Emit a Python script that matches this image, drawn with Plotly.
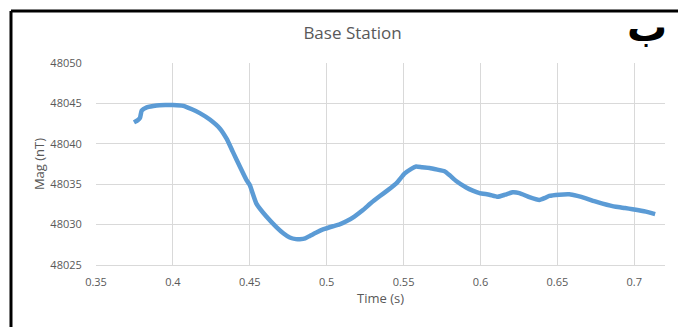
import plotly.graph_objects as go

time_s = [0.3747, 0.3770, 0.3786, 0.3797, 0.3830, 0.3894, 0.3950, 0.4000, 0.4067,
          0.4120, 0.4175, 0.4240, 0.4305, 0.4350, 0.4390, 0.4440, 0.4479, 0.4500,
          0.4543, 0.4608, 0.4673, 0.4720, 0.4760, 0.4800, 0.4825, 0.4860, 0.4890,
          0.4930, 0.4976, 0.5041, 0.5080, 0.5128, 0.5180, 0.5236, 0.5290, 0.5344,
          0.5400, 0.5453, 0.5506, 0.5550, 0.5582, 0.5620, 0.5669, 0.5720, 0.5766,
          0.5800, 0.5842, 0.5907, 0.5950, 0.5994, 0.6058, 0.6112, 0.6160, 0.6210,
          0.6253, 0.6318, 0.6383, 0.6420, 0.6448, 0.6513, 0.6578, 0.6630, 0.6686,
          0.6740, 0.6794, 0.6881, 0.6940, 0.6989, 0.7076, 0.7136]
mag_nT = [48042.65, 48042.9, 48043.2, 48044.1, 48044.5, 48044.75, 48044.8, 48044.8, 48044.7,
          48044.3, 48043.8, 48043.0, 48041.9, 48040.6, 48039.0, 48037.0, 48035.5, 48034.9,
          48032.6, 48031.0, 48029.7, 48028.9, 48028.4, 48028.2, 48028.2, 48028.3, 48028.6,
          48029.0, 48029.4, 48029.8, 48030.0, 48030.4, 48031.0, 48031.8, 48032.7, 48033.5,
          48034.3, 48035.1, 48036.3, 48036.9, 48037.2, 48037.1, 48037.0, 48036.8, 48036.6,
          48036.1, 48035.4, 48034.6, 48034.2, 48033.9, 48033.7, 48033.45, 48033.7, 48034.0,
          48033.9, 48033.4, 48033.05, 48033.3, 48033.55, 48033.7, 48033.75, 48033.55, 48033.25,
          48032.9, 48032.6, 48032.2, 48032.05, 48031.9, 48031.6, 48031.3]

x_ticks = [0.35, 0.4, 0.45, 0.5, 0.55, 0.6, 0.65, 0.7]
x_tick_labels = ["0.35", "0.4", "0.45", "0.5", "0.55", "0.6", "0.65", "0.7"]
y_ticks = [48025, 48030, 48035, 48040, 48045, 48050]
y_tick_labels = ["48025", "48030", "48035", "48040", "48045", "48050"]

grey = "#595959"
font_family = "Open Sans"

fig = go.Figure()
fig.add_trace(go.Scatter(
    x=time_s, y=mag_nT, mode="lines",
    line=dict(color="#5B9BD5", width=4.5, shape="spline", smoothing=0.4),
    hoverinfo="skip", showlegend=False,
))

fig.update_layout(
    width=678, height=327,
    margin=dict(l=96, r=13, t=63, b=62, autoexpand=False),
    paper_bgcolor="white", plot_bgcolor="white",
    title=dict(text="Base Station", x=0.52, xanchor="center", y=0.9, yanchor="middle",
               font=dict(family=font_family, size=17, color=grey)),
    xaxis=dict(range=[0.35, 0.72], tickvals=x_ticks, ticktext=x_tick_labels,
               automargin=False,
               showgrid=True, gridcolor="#D9D9D9", gridwidth=1,
               zeroline=False, showline=True, linecolor="#D9D9D9", linewidth=1,
               ticks="outside", ticklen=7, tickcolor="rgba(0,0,0,0)",
               tickfont=dict(family=font_family, size=11, color=grey),
               title=dict(text="Time (s)", font=dict(family=font_family, size=13, color=grey),
                          standoff=4)),
    yaxis=dict(range=[48025, 48050], tickvals=y_ticks, ticktext=y_tick_labels,
               automargin=False,
               showgrid=True, gridcolor="#D9D9D9", gridwidth=1,
               zeroline=False, showline=False,
               ticks="outside", ticklen=11, tickcolor="rgba(0,0,0,0)",
               tickfont=dict(family=font_family, size=11, color=grey),
               title=dict(text="Mag (nT)", font=dict(family=font_family, size=13, color=grey),
                          standoff=2)),
)

# black frame (left and top edges)
fig.add_shape(type="line", xref="paper", yref="paper", x0=-0.1494, x1=-0.1494,
              y0=1.2574, y1=-0.31, line=dict(color="black", width=3))
fig.add_shape(type="line", xref="paper", yref="paper", x0=-0.1494, x1=1.03,
              y0=1.2574, y1=1.2574, line=dict(color="black", width=3))

fig.add_annotation(text="ب", xref="paper", yref="paper", x=0.968, y=1.18,
                   xanchor="center", yanchor="middle", showarrow=False,
                   font=dict(family="DejaVu Sans", size=40, color="black", weight="bold"))

fig.write_html("out.html", config={"displayModeBar": False},
               post_script="document.body.style.margin='0';document.body.style.overflow='hidden';")
